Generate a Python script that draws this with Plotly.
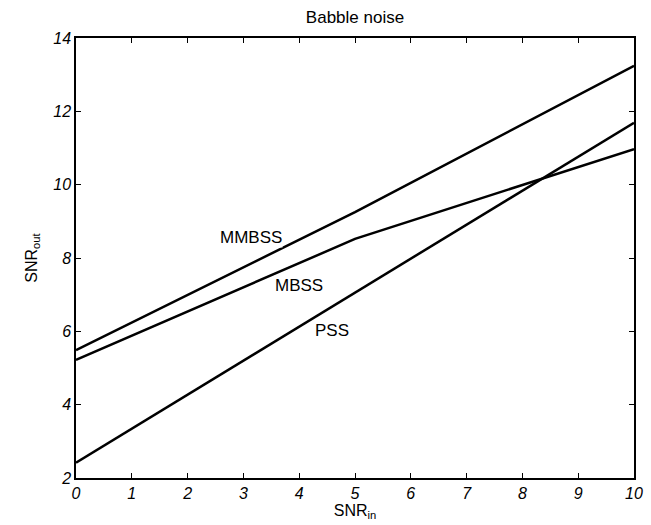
import plotly.graph_objects as go

snr_in = [0, 5, 10]
mmbss = [5.49, 9.25, 13.24]
mbss = [5.22, 8.52, 10.97]
pss = [2.42, 7.05, 11.69]

labels = ["MMBSS", "MBSS", "PSS"]
label_x = [3.14, 4.0, 4.59]
label_y = [8.57, 7.24, 6.01]

x_ticks = list(range(0, 11))
y_ticks = [2, 4, 6, 8, 10, 12, 14]

FONT = "Liberation Sans, Arial, sans-serif"

fig = go.Figure()
for name, ys in zip(labels, [mmbss, mbss, pss]):
    fig.add_trace(go.Scatter(x=snr_in, y=ys, mode="lines", name=name,
                             line=dict(color="black", width=2.5),
                             showlegend=False, hoverinfo="skip"))

for t, xx, yy in zip(labels, label_x, label_y):
    fig.add_annotation(x=xx, y=yy, text=t, showarrow=False,
                       font=dict(family=FONT, size=17, color="black"),
                       bgcolor="white", borderpad=0,
                       xanchor="center", yanchor="middle")

axis_common = dict(showline=True, linecolor="black", linewidth=1.5, mirror="ticks",
                   ticks="inside", ticklen=5, tickcolor="black", tickwidth=1,
                   showgrid=False, zeroline=False, automargin=False,
                   tickfont=dict(family=FONT, size=16, color="black", style="italic"))

fig.update_xaxes(range=[0, 10], tickvals=x_ticks, **axis_common,
                 title=dict(text="SNR<sub>in</sub>", font=dict(family=FONT, size=16, color="black"), standoff=3))
fig.update_yaxes(range=[2, 14], tickvals=y_ticks, **axis_common,
                 title=dict(text="SNR<sub>out</sub>", font=dict(family=FONT, size=16, color="black"), standoff=12))

fig.update_layout(
    width=651, height=525,
    margin=dict(l=76, r=17, t=38, b=47, autoexpand=False),
    plot_bgcolor="white", paper_bgcolor="white",
    title=dict(text="Babble noise", x=(76 + 558 / 2) / 651, xanchor="center",
               y=1 - 17 / 525, yanchor="middle",
               font=dict(family=FONT, size=17, color="black")),
)

fig.write_html("out.html")
